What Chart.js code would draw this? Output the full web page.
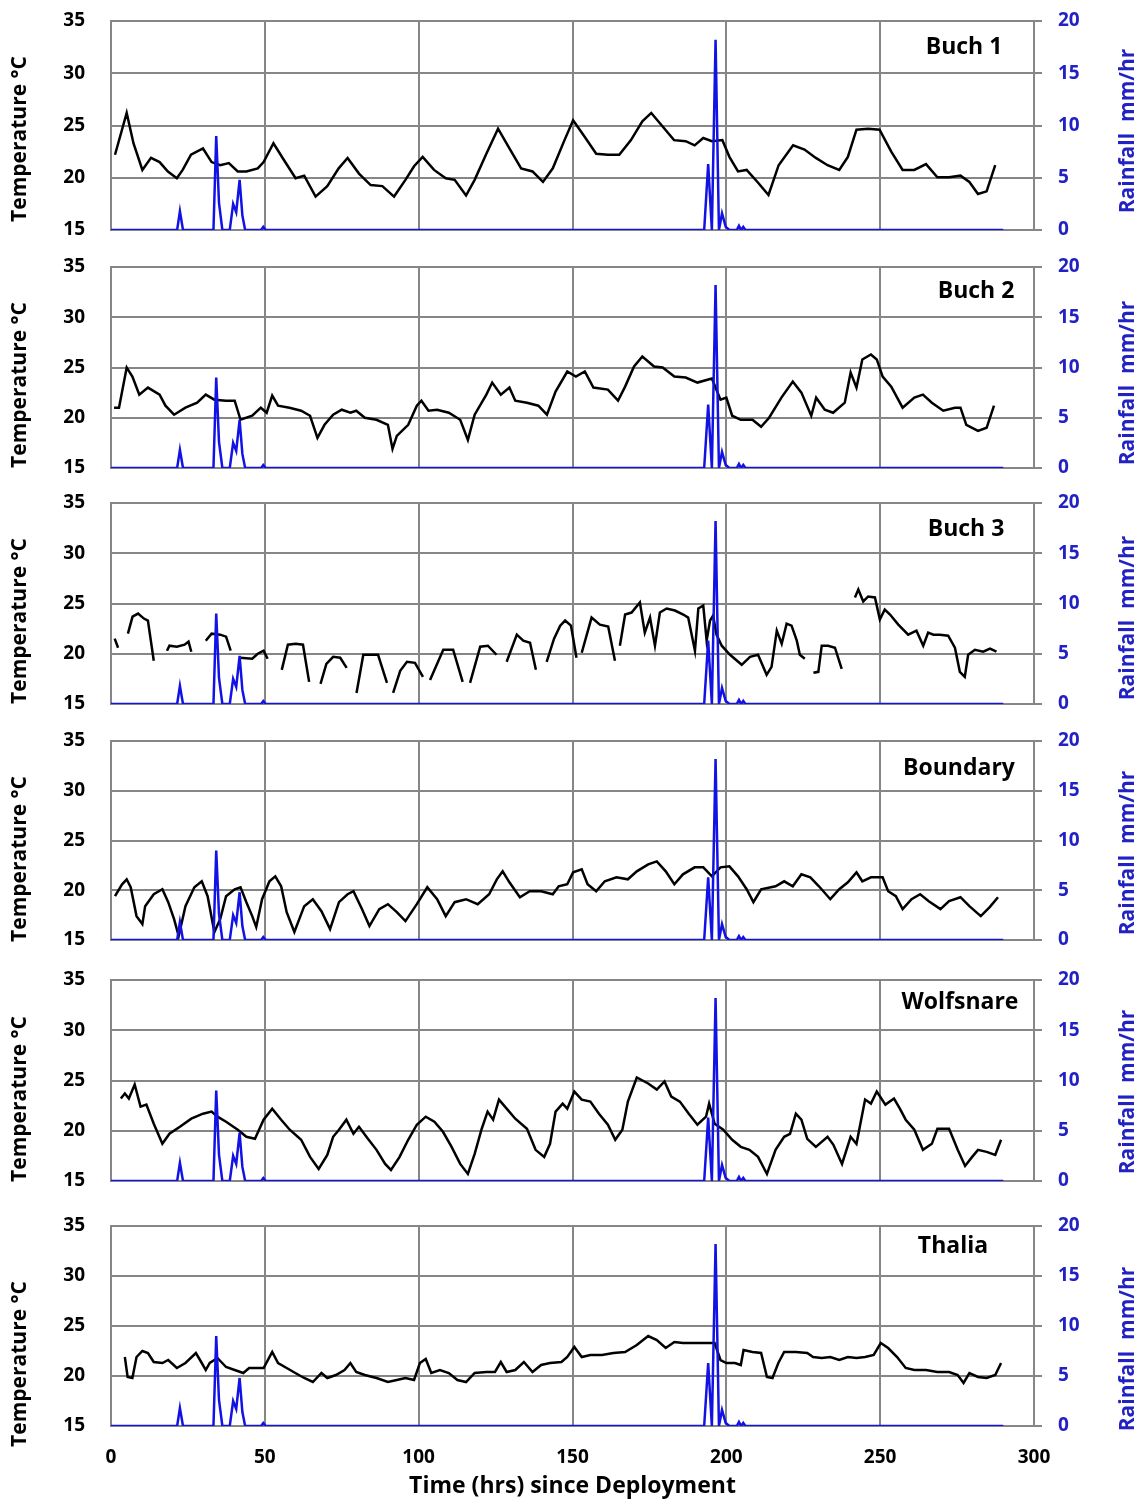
<!DOCTYPE html>
<html>
<head>
<meta charset="utf-8">
<script src="https://cdn.jsdelivr.net/npm/chart.js@4.4.1/dist/chart.umd.min.js"></script>
<style>
  html, body { margin: 0; padding: 0; background: #fff; }
  #page { position: relative; width: 1146px; height: 1502px; overflow: hidden; background: #fff; }
  #page canvas { position: absolute; left: 0; }
</style>
</head>
<body>
<div id="page"></div>
<script>
// Axis ranges
const hourRange = [0, 300];
const tempRange = [15, 35];
const rainRange = [0, 20];
const tickStep = { hour: 50, temp: 5, rain: 5 };

// Hourly rainfall (mm/hr), shared by every site
const rainHours = [0, 21.5, 22.4, 23.4, 33.3, 34.2, 35.1, 36.2, 38.6, 39.7, 40.7, 41.8, 42.7, 43.6,
  48.8, 49.5, 50.3, 192.8, 194.1, 195.3, 196.5, 197.6, 198.6, 199.8, 201, 203.4, 204.1, 204.8, 205.5, 206.2, 290];
const rainMm = [0, 0, 1.8, 0, 0, 9.0, 2.6, 0, 0, 2.5, 1.7, 4.8, 1.4, 0,
  0, 0.3, 0, 0, 6.3, 0, 18.2, 0, 1.6, 0.3, 0, 0, 0.4, 0, 0.3, 0, 0];

// Temperature records (°C) per site
const buch1Hours = [1.3, 5.1, 7.3, 10.2, 13, 15.8, 18.5, 21.4, 23.3, 26,
  29.9, 32.7, 35.5, 38.3, 41.2, 44, 47.7, 49.6, 52.8, 56.2,
  60, 62.8, 66.5, 70.3, 74, 76.9, 80.6, 84.4, 88.2, 92,
  95.7, 98.5, 101.3, 105, 108.8, 111.7, 115.4, 118.2, 122, 125.8,
  129.5, 133.3, 137, 140.4, 143.6, 147.4, 150.2, 154, 157.7, 161.5,
  165.2, 169, 172.7, 175.6, 179.3, 183, 186.8, 189.7, 192.5, 195.3,
  198.7, 201, 203.8, 206.6, 210.4, 213.7, 217, 221.7, 225.4, 229.1,
  232.9, 236.7, 239.5, 242.3, 246.1, 249.8, 253.6, 257.3, 261.1, 264.9,
  268.6, 272.4, 276.1, 279, 281.8, 284.6, 287.4];
const buch1Temp = [22.2, 26.2, 23.3, 20.75, 21.9, 21.5, 20.6, 19.95, 20.75, 22.2,
  22.8, 21.5, 21.2, 21.4, 20.6, 20.6, 20.9, 21.5, 23.3, 21.7,
  19.95, 20.2, 18.2, 19.2, 20.9, 21.9, 20.4, 19.3, 19.2, 18.2,
  19.8, 21.1, 22.0, 20.75, 19.95, 19.8, 18.3, 19.8, 22.3, 24.7,
  22.8, 20.9, 20.6, 19.6, 20.9, 23.6, 25.5, 23.9, 22.3, 22.2,
  22.2, 23.6, 25.4, 26.2, 24.9, 23.6, 23.5, 23.1, 23.8, 23.5,
  23.6, 22.0, 20.6, 20.75, 19.5, 18.35, 21.2, 23.1, 22.7, 21.9,
  21.2, 20.75, 22.0, 24.6, 24.7, 24.6, 22.5, 20.75, 20.75, 21.3,
  20.05, 20.05, 20.2, 19.6, 18.45, 18.7, 21.2];

const buch2Hours = [1.0, 2.6, 5.1, 6.95, 9.2, 12, 15.8, 17.7, 20.5, 24.2,
  28, 30.8, 33.6, 37.4, 40.2, 42.1, 45.9, 48.7, 50.6, 52.4,
  54.3, 58, 61.8, 64.7, 67.1, 69.4, 72.2, 75, 77.8, 79.7,
  82.5, 86.3, 90, 91.5, 92.9, 96.6, 99.4, 100.9, 103.2, 106,
  109.8, 113.5, 116, 118.2, 122, 123.9, 126.7, 129.5, 131.4, 135.2,
  138.9, 141.7, 144.5, 148.3, 151.1, 154, 156.8, 161.5, 164.8, 167.1,
  170, 172.7, 176.5, 179.3, 183.1, 186.8, 190.6, 195.3, 198.1, 200,
  201.9, 204.7, 208.5, 211.3, 213.9, 217.9, 221.6, 224.4, 227.6, 229.2,
  232, 234.7, 238.5, 240.4, 242.3, 244.2, 247, 248.9, 250.8, 253.6,
  257.3, 261.1, 263.9, 266.8, 270.5, 274.3, 276.1, 278, 281.8, 284.6,
  287];
const buch2Temp = [21.0, 21.0, 25.0, 24.1, 22.3, 23.0, 22.3, 21.2, 20.3, 21.0,
  21.5, 22.3, 21.8, 21.7, 21.7, 19.8, 20.2, 21.0, 20.5, 22.2,
  21.2, 21.0, 20.7, 20.2, 18.0, 19.3, 20.3, 20.8, 20.5, 20.7,
  20.0, 19.8, 19.3, 16.9, 18.2, 19.3, 21.2, 21.7, 20.7, 20.8,
  20.5, 19.8, 17.8, 20.3, 22.3, 23.5, 22.3, 23.0, 21.7, 21.5,
  21.2, 20.3, 22.6, 24.6, 24.1, 24.6, 23.0, 22.8, 21.7, 23.1,
  25.1, 26.1, 25.1, 25.0, 24.1, 24.0, 23.5, 23.9, 21.8, 22.0,
  20.2, 19.8, 19.8, 19.1, 20.0, 22.0, 23.6, 22.5, 20.2, 22.0,
  20.8, 20.5, 21.5, 24.5, 23.0, 25.8, 26.3, 25.8, 24.1, 23.1,
  21.0, 22.0, 22.3, 21.5, 20.7, 21.0, 21.0, 19.3, 18.7, 19.0,
  21.2];

// Buch 3 logger has dropouts; null breaks the line
const buch3Hours = [1.2, 2.3, 4,
  5.5, 7, 8.8, 10.7, 12, 13.9, 16,
  18.2, 19, 21.4, 23.9, 25.2, 26.1, 28,
  30.8, 32.7, 35.5, 37.4, 38.9, 40.5,
  42, 45.9, 47.7, 49.6, 50.9, 53,
  55.5, 57.5, 60, 62.4, 64.4, 66,
  68.1, 70, 72.2, 74.5, 76.6, 78,
  79.8, 82, 84.5, 86.8, 89.7, 90.7,
  91.7, 94, 96.2, 98.8, 101.4, 102.5,
  103.7, 108, 111.2, 114.3, 115.5,
  116.7, 120, 122.5, 125.3, 127,
  128.6, 131.9, 134, 136.2, 138.1, 140,
  141.6, 144, 146, 147.6, 149.5, 151.3, 152.2,
  153, 156.2, 158.9, 161.6, 163.8, 164.6,
  165.4, 167.1, 169.2, 171.9, 173.5, 175.2, 176.8, 178.4, 180.6, 183.3,
  186, 187.6, 189.8, 190.9, 192.5, 193.6, 194.7, 195.7, 196.8, 198.5,
  201.2, 205, 207.7, 210.3, 213.1, 214.7, 216.4, 218, 219.6, 221.2,
  222.9, 223.9, 225.5, 227,
  228.3, 229.9, 231, 233.1, 235.3, 237.5, 240,
  241.8, 242.9, 244.5, 246.1, 248.3, 249.9, 251.5, 253.2, 255.9, 259.1,
  261.8, 264, 265.6, 267.3, 269.4, 272.1, 274.3, 275.9, 277.5, 278.6,
  280.8, 283.5, 285.7, 287.8];
const buch3Temp = [21.5, 20.6, null,
  22.0, 23.7, 24.0, 23.5, 23.3, 19.3, null,
  20.3, 20.8, 20.7, 20.9, 21.2, 20.2, null,
  21.3, 22.0, 21.9, 21.7, 20.3, null,
  19.6, 19.5, 20.0, 20.3, 19.5, null,
  18.4, 20.9, 21.0, 20.9, 17.2, null,
  17.0, 19.0, 19.7, 19.6, 18.6, null,
  16.1, 19.9, 19.9, 19.9, 17.1, null,
  16.1, 18.3, 19.2, 19.1, 17.7, null,
  17.4, 20.4, 20.4, 17.2, null,
  17.1, 20.7, 20.8, 19.9, null,
  19.2, 21.9, 21.3, 21.1, 18.4, null,
  19.2, 21.5, 22.8, 23.3, 22.8, 19.6, null,
  20.1, 23.6, 22.9, 22.7, 19.3, null,
  20.8, 23.9, 24.1, 25.1, 22.1, 23.6, 20.8, 24.1, 24.5, 24.3,
  23.9, 23.6, 20.3, 24.5, 24.8, 21.3, 23.3, 23.8, 21.9, 20.8,
  19.9, 18.9, 19.7, 19.9, 17.9, 18.7, 22.3, 21.0, 23.0, 22.8,
  21.3, 19.9, 19.5, null,
  18.1, 18.2, 20.8, 20.8, 20.6, 18.5, null,
  25.6, 26.4, 25.2, 25.7, 25.6, 23.4, 24.4, 23.9, 22.9, 21.9,
  22.3, 20.8, 22.1, 21.9, 21.9, 21.8, 20.6, 18.2, 17.7, 19.9,
  20.4, 20.2, 20.5, 20.2];

const boundaryHours = [1.3, 3.6, 5.1, 6.4, 8.3, 10.2, 11.1, 13.9, 16.7, 18.6,
  20.5, 22, 24.2, 27.1, 29.5, 31.4, 33.6, 35.5, 37.4, 40.2,
  42.1, 44, 45.9, 47.2, 49.1, 51.5, 53.4, 55.3, 57.1, 59.6,
  62.8, 65.6, 68.4, 71.2, 74.1, 76.9, 78.8, 81.6, 84, 87.2,
  90, 92.9, 95.7, 99.4, 102.8, 106, 108.8, 111.7, 115.4, 119.2,
  122.9, 125.4, 127.3, 129.5, 132.9, 136.1, 139.8, 143.6, 145.5, 148.3,
  150.2, 153, 154.9, 157.7, 160.5, 164.3, 168, 170.9, 174.6, 177.4,
  180.3, 183.1, 185.9, 189.7, 192.5, 195.3, 198.1, 201, 203.8, 206.6,
  208.8, 211.3, 216, 218.8, 221.6, 224.4, 227.3, 230.1, 233.8, 236.7,
  239.5, 242.3, 244.2, 247, 250.8, 252.6, 255.1, 257.3, 260.2, 263,
  265.8, 269.6, 272.4, 276.1, 279, 282.7, 285.6, 288.3];
const boundaryTemp = [19.4, 20.6, 21.1, 20.3, 17.4, 16.6, 18.4, 19.6, 20.1, 18.8,
  17.1, 15.4, 18.4, 20.3, 20.9, 19.4, 15.8, 17.1, 19.4, 20.1,
  20.3, 18.8, 17.4, 16.3, 19.1, 20.9, 21.4, 20.4, 17.8, 15.8,
  18.4, 19.1, 17.9, 16.1, 18.8, 19.6, 19.9, 18.1, 16.4, 18.1,
  18.6, 17.8, 16.9, 18.6, 20.3, 19.1, 17.4, 18.8, 19.1, 18.6,
  19.6, 21.1, 21.9, 20.8, 19.3, 19.9, 19.9, 19.6, 20.4, 20.6,
  21.8, 22.1, 20.6, 19.9, 20.9, 21.3, 21.1, 21.9, 22.6, 22.9,
  21.9, 20.6, 21.6, 22.3, 22.3, 21.4, 22.3, 22.4, 21.4, 20.1,
  18.8, 20.1, 20.4, 20.9, 20.4, 21.6, 21.3, 20.4, 19.1, 20.1,
  20.8, 21.8, 20.9, 21.3, 21.3, 19.9, 19.4, 18.1, 19.1, 19.6,
  18.9, 18.1, 18.9, 19.3, 18.4, 17.4, 18.3, 19.3];

const wolfsnareHours = [3.2, 4.5, 5.8, 7.7, 9.6, 11.5, 13.9, 16.7, 19, 22.4,
  26.1, 29.9, 32.7, 34.6, 37.4, 41.2, 44, 46.8, 49.6, 52.4,
  55.3, 58.1, 61.8, 64.7, 67.5, 70.3, 72.2, 74.1, 76.5, 78.8,
  80.6, 83.5, 86.3, 89.1, 91, 93.8, 96.6, 99.4, 102.3, 105.1,
  107.9, 110.7, 113.5, 116, 118.2, 120.5, 122.4, 124.2, 126.1, 128.6,
  131.4, 135.2, 138, 140.8, 142.7, 144.5, 146.8, 148.3, 150.6, 153,
  155.8, 158.6, 161.5, 163.9, 166.2, 168, 170.9, 174.6, 177.4, 179.9,
  182.1, 184.9, 187.8, 190.6, 193.4, 194.4, 196.2, 199, 201.9, 204.7,
  207.5, 210.3, 213.2, 216, 218.8, 220.7, 222.6, 224.4, 226.3, 229.1,
  232.9, 234.8, 237.6, 240.4, 242.3, 245.1, 247, 248.9, 251.7, 254.5,
  256.4, 258.3, 261.1, 263.9, 266.8, 268.6, 272.4, 275.2, 277.6, 279.9,
  281.8, 284.6, 287.4, 289.3];
const wolfsnareTemp = [23.2, 23.7, 23.2, 24.6, 22.4, 22.6, 20.7, 18.7, 19.7, 20.4,
  21.2, 21.7, 21.9, 21.4, 20.9, 20.1, 19.4, 19.2, 21.1, 22.2,
  21.1, 20.1, 19.1, 17.4, 16.2, 17.6, 19.4, 20.1, 21.1, 19.7,
  20.4, 19.2, 18.1, 16.7, 16.1, 17.4, 19.1, 20.6, 21.4, 20.9,
  19.9, 18.4, 16.7, 15.7, 17.7, 20.2, 21.9, 21.1, 23.1, 22.2,
  21.2, 20.2, 18.1, 17.4, 18.7, 21.9, 22.7, 22.2, 23.9, 23.1,
  22.9, 21.7, 20.6, 19.1, 20.1, 22.9, 25.3, 24.7, 24.1, 24.9,
  23.4, 22.9, 21.7, 20.6, 21.4, 22.7, 20.7, 20.1, 19.1, 18.4,
  18.1, 17.4, 15.7, 18.1, 19.4, 19.7, 21.7, 21.1, 19.2, 18.4,
  19.4, 18.6, 16.7, 19.4, 18.7, 23.1, 22.7, 23.9, 22.6, 23.2,
  22.2, 21.1, 20.1, 18.1, 18.7, 20.2, 20.2, 18.1, 16.5, 17.4,
  18.1, 17.9, 17.6, 19.1];

const thaliaHours = [4.5, 5.4, 6.95, 8.3, 10.2, 12, 13.9, 16.7, 18.6, 21.4,
  24.2, 27.6, 29.5, 30.8, 32.1, 34.6, 37.4, 40.2, 43, 44.9,
  47.7, 49.6, 52.4, 54.3, 57.1, 59.9, 62.8, 65.6, 68.4, 70.3,
  73.1, 75.9, 77.8, 79.7, 82.5, 86.3, 90, 92.9, 95.7, 98.5,
  100.4, 102.3, 104.1, 106.9, 109.8, 112.6, 115.4, 118.2, 122, 124.8,
  126.7, 128.6, 131.4, 134.2, 137, 139.8, 142.7, 146.4, 148.3, 150.6,
  153, 155.8, 159.6, 163.3, 167.1, 170.9, 174.6, 177.4, 180.3, 183.1,
  185.9, 189.7, 193.4, 196.2, 198.1, 200, 202.8, 204.7, 205.6, 208.5,
  211.3, 213.2, 215, 216.9, 218.8, 222.6, 226.3, 228.2, 231, 233.8,
  236.7, 239.5, 242.3, 245.1, 247.9, 250.2, 252.6, 255.5, 258.3, 261.1,
  264.9, 268.6, 272.4, 275.2, 277.1, 279, 281.8, 284.6, 287.4, 289.3];
const thaliaTemp = [21.9, 19.9, 19.8, 21.9, 22.5, 22.3, 21.4, 21.3, 21.6, 20.8,
  21.3, 22.3, 21.3, 20.6, 21.3, 21.8, 20.9, 20.6, 20.3, 20.8,
  20.8, 20.8, 22.4, 21.3, 20.8, 20.3, 19.8, 19.4, 20.3, 19.8,
  20.1, 20.6, 21.3, 20.4, 20.1, 19.8, 19.4, 19.6, 19.8, 19.6,
  21.3, 21.7, 20.3, 20.6, 20.3, 19.6, 19.4, 20.3, 20.4, 20.4,
  21.4, 20.4, 20.6, 21.4, 20.4, 21.1, 21.3, 21.4, 21.9, 22.9,
  21.9, 22.1, 22.1, 22.3, 22.4, 23.1, 24.0, 23.6, 22.8, 23.4,
  23.3, 23.3, 23.3, 23.3, 21.6, 21.3, 21.3, 21.1, 22.6, 22.4,
  22.3, 19.9, 19.8, 21.3, 22.4, 22.4, 22.3, 21.9, 21.8, 21.9,
  21.6, 21.9, 21.8, 21.9, 22.1, 23.3, 22.8, 21.9, 20.8, 20.6,
  20.6, 20.4, 20.4, 20.1, 19.3, 20.3, 19.9, 19.8, 20.1, 21.3];

// Layout of the six stacked panels (page pixels)
const panels = [
  { name: 'Buch 1',    hours: buch1Hours,     temps: buch1Temp,     top: 21,   bottom: 230,  nameX: 964, nameY: 47,   tempTitleY: 139,  rainTitleY: 131 },
  { name: 'Buch 2',    hours: buch2Hours,     temps: buch2Temp,     top: 267,  bottom: 468,  nameX: 976, nameY: 291,  tempTitleY: 385,  rainTitleY: 383 },
  { name: 'Buch 3',    hours: buch3Hours,     temps: buch3Temp,     top: 503,  bottom: 704,  nameX: 966, nameY: 529,  tempTitleY: 621,  rainTitleY: 618 },
  { name: 'Boundary',  hours: boundaryHours,  temps: boundaryTemp,  top: 741,  bottom: 940,  nameX: 959, nameY: 768,  tempTitleY: 859,  rainTitleY: 853 },
  { name: 'Wolfsnare', hours: wolfsnareHours, temps: wolfsnareTemp, top: 980,  bottom: 1181, nameX: 960, nameY: 1002, tempTitleY: 1099, rainTitleY: 1092 },
  { name: 'Thalia',    hours: thaliaHours,    temps: thaliaTemp,    top: 1226, bottom: 1426, nameX: 953, nameY: 1246, tempTitleY: 1364, rainTitleY: 1349 }
];

const FONT = "'Open Sans', 'DejaVu Sans', sans-serif";
const GRID = '#868686';
const RAIN_LINE = '#1212e6';
const RAIN_TEXT = '#2222c4';
const PAGE_W = 1146;
const PAGE_H = 1502;
const PAD_TOP = 20;

// Site name and the two rotated axis titles, drawn in page coordinates
const panelText = {
  id: 'panelText',
  afterDraw(chart, args, opts) {
    const ctx = chart.ctx;
    const dy = opts.canvasTop;
    ctx.save();
    ctx.textAlign = 'center';
    ctx.textBaseline = 'middle';

    ctx.fillStyle = '#000';
    ctx.font = `bold 23px ${FONT}`;
    ctx.fillText(opts.name, opts.nameX, opts.nameY - dy);

    ctx.font = `bold 21px ${FONT}`;
    ctx.save();
    ctx.translate(20, opts.tempTitleY - dy);
    ctx.rotate(-Math.PI / 2);
    ctx.fillText('Temperature °C', 0, 0);
    ctx.restore();

    ctx.fillStyle = RAIN_TEXT;
    ctx.save();
    ctx.translate(1128, opts.rainTitleY - dy);
    ctx.rotate(-Math.PI / 2);
    ctx.fillText('Rainfall  mm/hr', 0, 0);
    ctx.restore();

    ctx.restore();
  }
};

// Pin the axis boxes so every panel's plot area lands where the layout says
function fixBox(size) {
  return s => {
    if (s.isHorizontal()) s.height = size; else s.width = size;
    s.paddingTop = 0;
    s.paddingBottom = 0;
    s.paddingLeft = 0;
    s.paddingRight = 0;
  };
}

const page = document.getElementById('page');

panels.forEach((p, i) => {
  const last = i === panels.length - 1;
  const xAxisH = last ? PAGE_H - p.bottom : 20;
  const canvasTop = p.top - PAD_TOP;
  const height = PAD_TOP + (p.bottom - p.top) + xAxisH;

  const canvas = document.createElement('canvas');
  canvas.width = PAGE_W;
  canvas.height = height;
  canvas.style.top = canvasTop + 'px';
  canvas.style.width = PAGE_W + 'px';
  canvas.style.height = height + 'px';
  page.appendChild(canvas);

  new Chart(canvas.getContext('2d'), {
    type: 'line',
    data: {
      datasets: [
        {
          label: 'Rainfall',
          data: rainHours.map((h, k) => ({ x: h, y: rainMm[k] })),
          yAxisID: 'rain',
          borderColor: RAIN_LINE,
          borderWidth: 2.5,
          pointRadius: 0,
          tension: 0
        },
        {
          label: p.name,
          data: p.hours.map((h, k) => ({ x: h, y: p.temps[k] })),
          yAxisID: 'temp',
          borderColor: '#000',
          borderWidth: 2.5,
          pointRadius: 0,
          tension: 0,
          spanGaps: false
        }
      ]
    },
    options: {
      responsive: false,
      animation: false,
      devicePixelRatio: 1,
      layout: { padding: { top: PAD_TOP, left: 0, right: 0, bottom: 0 } },
      plugins: {
        legend: { display: false },
        tooltip: { enabled: false },
        panelText: { canvasTop, name: p.name, nameX: p.nameX, nameY: p.nameY, tempTitleY: p.tempTitleY, rainTitleY: p.rainTitleY }
      },
      scales: {
        x: {
          type: 'linear',
          min: hourRange[0],
          max: hourRange[1],
          afterFit: fixBox(xAxisH),
          ticks: {
            display: last,
            stepSize: tickStep.hour,
            color: '#000',
            maxRotation: 0,
            padding: 20,
            font: { family: FONT, size: 19, weight: 'bold' }
          },
          grid: { color: GRID, lineWidth: 2, drawTicks: false },
          border: { color: GRID, width: 2 },
          title: {
            display: last,
            text: 'Time (hrs) since Deployment',
            color: '#000',
            padding: { top: 0, bottom: 2 },
            font: { family: FONT, size: 23, weight: 'bold' }
          }
        },
        temp: {
          position: 'left',
          min: tempRange[0],
          max: tempRange[1],
          afterFit: fixBox(111),
          ticks: {
            stepSize: tickStep.temp,
            color: '#000',
            padding: 26,
            font: { family: FONT, size: 19, weight: 'bold' }
          },
          grid: { color: GRID, lineWidth: 2, drawTicks: false },
          border: { color: GRID, width: 2 }
        },
        rain: {
          position: 'right',
          min: rainRange[0],
          max: rainRange[1],
          afterFit: fixBox(PAGE_W - 1034),
          ticks: {
            stepSize: tickStep.rain,
            color: RAIN_TEXT,
            padding: 16,
            font: { family: FONT, size: 19, weight: 'bold' }
          },
          grid: { drawOnChartArea: false, color: GRID, lineWidth: 2, tickLength: 8 },
          border: { color: GRID, width: 2 }
        }
      }
    },
    plugins: [panelText]
  });
});
</script>
</body>
</html>
